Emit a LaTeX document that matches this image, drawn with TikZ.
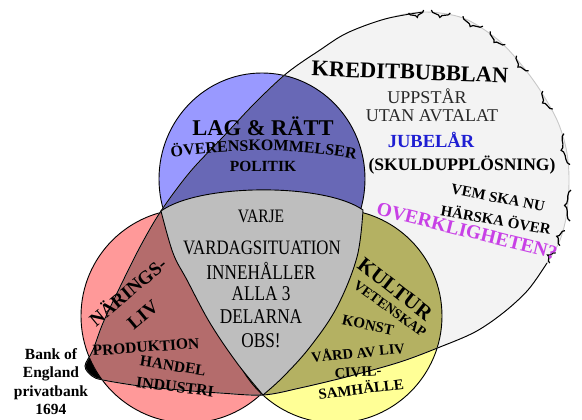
\documentclass[tikz,border=0pt]{standalone}
\usepackage{fontspec}
\setmainfont{Liberation Serif}
\newfontfamily\narrowserif[FakeStretch=0.82]{Liberation Serif}
\usetikzlibrary{decorations.pathreplacing,decorations.text}

\definecolor{bubblefill}{RGB}{243,243,243}
\definecolor{bubbleedge}{RGB}{200,200,200}
\definecolor{ltblue}{RGB}{153,153,255}
\definecolor{dkblue}{RGB}{104,104,182}
\definecolor{ltred}{RGB}{255,153,153}
\definecolor{dkred}{RGB}{180,108,108}
\definecolor{ltyellow}{RGB}{255,255,150}
\definecolor{dkyellow}{RGB}{180,177,98}
\definecolor{centregray}{RGB}{190,190,190}
\definecolor{jubelblue}{RGB}{30,30,210}
\definecolor{overklmagenta}{RGB}{200,64,230}
\definecolor{darktext}{RGB}{40,40,40}

\newcommand{\fsz}[1]{\fontsize{#1}{#1}\selectfont}
% the credit bubble, pixel coordinates
\newcommand{\bubblepath}{plot[smooth cycle,tension=0.55] coordinates {
    (85,366) (93,350) (103,323) (120,287) (140,247) (161,211) (190,172)
    (223,137) (255,103) (287,73) (320,50) (347,33) (385,19) (423,12)
    (463,18) (497,39) (520,63) (540,90) (557,120) (566,148) (569,177)
    (567,212) (560,240) (547,263) (528,290) (503,313) (475,332) (440,347)
    (400,362) (350,376) (300,388) (263,395) (220,393) (180,390) (140,386)
    (103,380) (92,376)}}
\newcommand{\bluecircle}{(262,179) ellipse [x radius=103,y radius=106]}
\newcommand{\redcircle}{(188,316) circle [radius=107]}
\newcommand{\yellowcircle}{(335,316) circle [radius=107]}
\newcommand{\centrepath}{(161,211) .. controls (200,183) and (325,183) .. (363,210)
    -- plot[smooth,tension=0.6] coordinates {(363,210) (357,257) (337,307) (310,347) (283,377) (263,395)}
    -- plot[smooth,tension=0.6] coordinates {(263,395) (237,363) (210,323) (187,280) (173,253) (161,211)}
    -- cycle}

\begin{document}
\begin{tikzpicture}[x=1pt,y=-1pt,
    txt/.style={inner sep=0pt},
    outline/.style={draw=black,line width=0.9pt},
    crack/.style={decorate,decoration={brace,amplitude=6pt,raise=-2pt},line width=1.2pt}]

    \fill[white] (0,0) rectangle (582,420);
    \useasboundingbox (0,0) rectangle (582,420);

    % bubble body and its black tip
    \fill[bubblefill] \bubblepath;
    \begin{scope}
        \clip (70,340) rectangle (112,392);
        \fill[black] \bubblepath;
    \end{scope}

    % three circles, darker inside the bubble
    \fill[ltred] \redcircle;
    \fill[ltyellow] \yellowcircle;
    \fill[ltblue] \bluecircle;
    \begin{scope}
        \clip \bubblepath;
        \fill[dkred] \redcircle;
        \fill[dkyellow] \yellowcircle;
        \fill[dkblue] \bluecircle;
    \end{scope}
    \draw[outline] \redcircle;
    \draw[outline] \yellowcircle;
    \draw[outline] \bluecircle;

    % bubble edge: grey where it cracks
    \draw[bubbleedge,line width=0.9pt] \bubblepath;
    \draw[line width=0.9pt] plot[smooth,tension=0.55] coordinates {
        (547,263) (528,290) (503,313) (475,332) (440,347) (400,362) (350,376)
        (300,388) (263,395) (220,393) (180,390) (140,386) (103,380) (92,376)
        (85,366) (93,350) (103,323) (120,287) (140,247) (161,211) (190,172)
        (223,137) (255,103) (287,73) (320,50) (347,33) (385,19) (423,12)};
    \foreach \xa/\ya/\xb/\yb in {424/12/409/15, 450/15/431/12, 482/28/462/18,
        504/46/489/33, 527/72/515/57, 551/110/541/92, 568/165/562/134,
        568/221/569/190, 558/245/563/230, 548/262/554/252}
        \draw[crack] (\xa,\ya) -- (\xb,\yb);

    % common part
    \filldraw[fill=centregray,outline] \centrepath;

    % bubble texts
    \node[txt,font=\bfseries\fsz{22.4},rotate=-2] (kredit) at (410,72) {KREDITBUBBLAN};
    \node[txt,text=darktext,font=\fsz{18}] (uppstar) at (427,96) {UPPSTÅR};
    \node[txt,text=darktext,font=\fsz{18}] (utan) at (432,116) {UTAN AVTALAT};
    \node[txt,text=jubelblue,font=\bfseries\fsz{18.5}] (jubel) at (431,140) {JUBELÅR};
    \node[txt,font=\bfseries\fsz{17.5}] (skuld) at (462,165) {(SKULDUPPLÖSNING)};
    \node[txt,font=\bfseries\fsz{15},rotate=-11] (vem) at (498,198) {VEM SKA NU};
    \node[txt,font=\bfseries\fsz{15},rotate=-10] (harska) at (496,219) {HÄRSKA ÖVER};
    \node[txt,text=overklmagenta,font=\bfseries\fsz{19.5},rotate=-14] (overkl) at (467,231) {OVERKLIGHETEN?};

    % blue part
    \node[txt,font=\bfseries\fsz{22.5}] (lag) at (263,126) {LAG \& RÄTT};
    \path[decorate,decoration={text along path,text align=center,
        text={|\bfseries\fsz{16}|ÖVERENSKOMMELSER}}]
        (150,161) .. controls (225,147) and (302,147) .. (377,163);
    \node[txt,font=\bfseries\fsz{15.5}] (politik) at (263,166) {POLITIK};

    % centre
    \node[txt,font=\narrowserif\fsz{19}] (varje) at (261,216) {VARJE};
    \node[txt,font=\narrowserif\fsz{20.5}] (vardag) at (262,248) {VARDAGSITUATION};
    \node[txt,font=\narrowserif\fsz{21}] (innehaller) at (261,271) {INNEHÅLLER};
    \node[txt,font=\narrowserif\fsz{21}] (alla) at (261,294) {ALLA 3};
    \node[txt,font=\narrowserif\fsz{21}] (delarna) at (261,317) {DELARNA};
    \node[txt,font=\narrowserif\fsz{21}] (obs) at (261,341) {OBS!};

    % red part
    \node[txt,font=\bfseries\fsz{19},rotate=40] (narings) at (127,291) {NÄRINGS-};
    \node[txt,font=\bfseries\fsz{19},rotate=40] (liv) at (143,315) {LIV};
    \node[txt,font=\bfseries\fsz{15.5},rotate=4] (produktion) at (146,347) {PRODUKTION};
    \node[txt,font=\bfseries\fsz{15.5},rotate=-9] (handel) at (173,366) {HANDEL};
    \node[txt,font=\bfseries\fsz{16},rotate=-7] (industri) at (175,387) {INDUSTRI};

    % yellow part
    \node[txt,font=\bfseries\fsz{21},rotate=-38] (kultur) at (395,289) {KULTUR};
    \node[txt,font=\bfseries\fsz{14},rotate=-36] (vetenskap) at (390,309) {VETENSKAP};
    \node[txt,font=\bfseries\fsz{15},rotate=-12] (konst) at (368,325) {KONST};
    \node[txt,font=\bfseries\fsz{14.5},rotate=6] (vard) at (358,352) {VÅRD AV LIV};
    \node[txt,font=\bfseries\fsz{14.5},rotate=4] (civil) at (358,372) {CIVIL-};
    \node[txt,font=\bfseries\fsz{15},rotate=7] (samhalle) at (361,388) {SAMHÄLLE};

    % where the bubble starts
    \node[txt,font=\bfseries\fontsize{15.5}{18.5}\selectfont,align=center,anchor=north]
        (bank) at (51,348) {Bank of\\England\\privatbank\\1694};
\end{tikzpicture}
\end{document}
